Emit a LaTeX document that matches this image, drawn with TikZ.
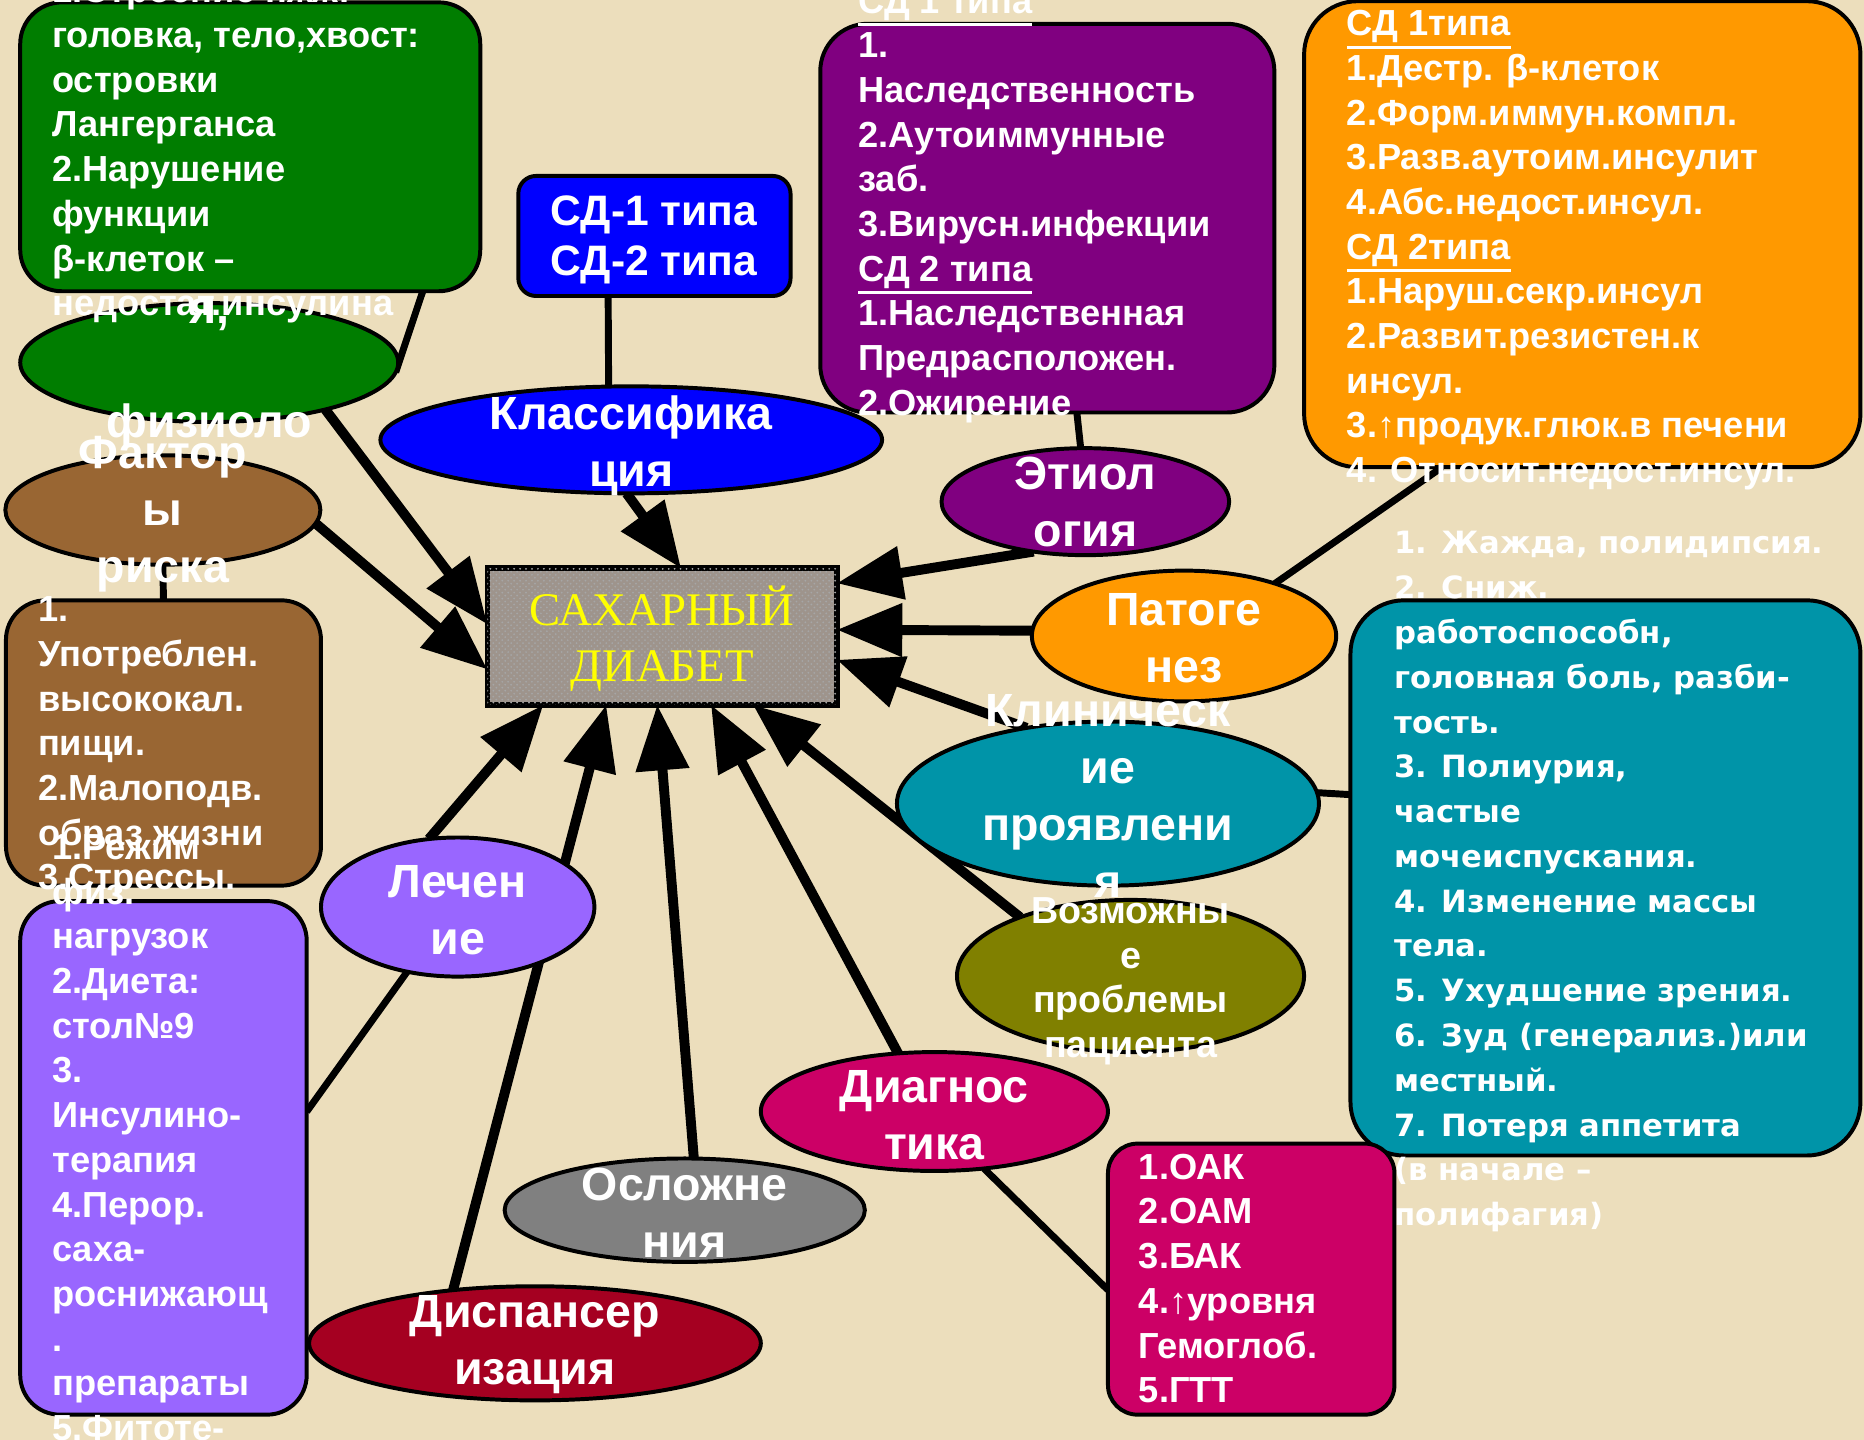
\documentclass[tikz,border=0pt]{standalone}
\usepackage{fontspec}
\setmainfont{Liberation Sans}
\newfontfamily\serifT{Liberation Serif}
\newfontfamily\verd{DejaVu Sans}
\usetikzlibrary{shapes.geometric,arrows.meta,calc,fit,patterns}
\pgfdeclarelayer{bgl}
\pgfdeclarelayer{conl}
\pgfsetlayers{bgl,conl,main}
\definecolor{bg}{RGB}{236,222,188}
\definecolor{cgreen}{RGB}{0,125,0}
\definecolor{cbrown}{RGB}{153,102,51}
\definecolor{cviolet}{RGB}{153,102,255}
\definecolor{cblue}{RGB}{0,0,255}
\definecolor{cpurple}{RGB}{128,0,128}
\definecolor{corange}{RGB}{255,153,0}
\definecolor{cteal}{RGB}{0,148,168}
\definecolor{colive}{RGB}{128,128,0}
\definecolor{cmag}{RGB}{204,0,102}
\definecolor{cgray}{RGB}{128,128,128}
\definecolor{cdred}{RGB}{165,0,33}
\definecolor{cstone}{RGB}{158,148,140}
\definecolor{cyel}{RGB}{255,255,0}
\newcommand{\bodytxt}[1]{\parbox[t]{12cm}{\raggedright\bfseries\fontsize{18.3}{22.56}\selectfont #1}}
\newcommand{\teatxt}[1]{\parbox[t]{12cm}{\raggedright\verd\bfseries\fontsize{15.5}{22.6}\selectfont #1}}
\newcommand{\lbltxt}[1]{\parbox[t]{8cm}{\centering\bfseries\fontsize{23.5}{28.8}\selectfont #1}}
\newcommand{\ulx}[1]{\leavevmode\vtop{\hbox{#1}\kern1.4pt\hrule height 1.5pt}}
\tikzset{
  shp/.style={draw=black, line width=2pt},
  ell/.style={shp, ellipse, inner sep=0pt, outer sep=0pt},
  rbox/.style={shp, rectangle, inner sep=0pt, outer sep=0pt},
  conn/.style={line width=3.5pt, black},
  arr/.style={line width=5pt, black, -{Triangle[length=33pt,width=26pt]}},
  txt/.style={inner sep=0pt, outer sep=0pt, text=white, anchor=base west},
  lbl/.style={inner sep=0pt, outer sep=0pt, text=white, anchor=base},
}
\begin{document}
\begin{tikzpicture}[x=0.6pt, y=-0.6pt]
\useasboundingbox (0,0) rectangle (1568,1211);
\begin{pgfonlayer}{bgl}
\fill[bg] (0,0) rectangle (1568,1211);
\end{pgfonlayer}

% green ellipse (anatomy)
\node[ell, fill=cgreen, minimum width=190.8pt, minimum height=60pt] (gell) at (176,305) {};
\node[lbl] (gellt) at (176,272) {\lbltxt{я,\\[28.8pt]физиоло}};
% brown ellipse
\node[ell, fill=cbrown, minimum width=159pt, minimum height=55.2pt] (bell) at (137,429) {};
\node[lbl] (bellt) at (137,394) {\lbltxt{Фактор\\ы\\риска}};
% green box
\node[rbox, rounded corners=21pt, fill=cgreen, fit={(17,2) (404,245)}] (gbox) {};
\node[txt] (gboxt) at (44,2.4) {\bodytxt{1.Строение пжж:\\головка, тело,хвост:\\островки\\Лангерганса\\2.Нарушение\\функции\\β-клеток –\\недостат.инсулина}};
% brown box
\node[rbox, rounded corners=20pt, fill=cbrown, fit={(5,505) (270,745)}] (bbox) {};
\node[txt] (bboxt) at (32,523) {\bodytxt{1.\\Употреблен.\\высококал.\\пищи.\\2.Малоподв.\\образ жизни\\3.Стрессы.}};
% violet box
\node[rbox, rounded corners=20pt, fill=cviolet, fit={(17,758) (258,1190)}] (vbox) {};
\node[txt] (vboxt) at (44,723) {\bodytxt{1.Режим\\физ.\\нагрузок\\2.Диета:\\стол№9\\3.\\Инсулино-\\терапия\\4.Перор.\\саха-\\роснижающ\\.\\препараты\\5.Фитоте-}};
% treatment
\node[ell, fill=cviolet, minimum width=138pt, minimum height=70.2pt] (lech) at (385,763) {};
\node[lbl] (lecht) at (385,755) {\lbltxt{Лечен\\ие}};
% SD box
\node[rbox, rounded corners=9pt, fill=cblue, fit={(436,148) (665,249)}] (sd) {};
\node[lbl] (sdt) at (550,190) {\parbox[t]{6cm}{\centering\bfseries\fontsize{21.5}{25.2}\selectfont СД-1 типа\\СД-2 типа}};
% classification
\node[ell, fill=cblue, minimum width=253.2pt, minimum height=54pt] (klass) at (531,370) {};
\node[lbl] (klasst) at (531,361) {\lbltxt{Классифика\\ция}};
% centre
\node[rbox, line width=2.8pt, fill=cstone, postaction={pattern=crosshatch dots, pattern color=black!35}, fit={(410,478) (704,593)}] (center) {};
\node[lbl, text=cyel] (centert) at (557,526) {\parbox[t]{8cm}{\centering\serifT\fontsize{23.6}{28.2}\selectfont САХАРНЫЙ\\ДИАБЕТ}};
% etiology box
\node[rbox, rounded corners=24pt, fill=cpurple, fit={(690,20) (1072,347)}] (pbox) {};
\node[txt] (pboxt) at (722,11) {\bodytxt{\ulx{СД 1 типа}\\1.\\Наследственность\\2.Аутоиммунные\\заб.\\3.Вирусн.инфекции\\\ulx{СД 2 типа}\\1.Наследственная\\Предрасположен.\\2.Ожирение}};
\node[ell, fill=cpurple, minimum width=145.2pt, minimum height=54pt] (etio) at (913,422) {};
\node[lbl] (etiot) at (913,412) {\lbltxt{Этиол\\огия}};
% pathogenesis box
\node[rbox, rounded corners=27pt, fill=corange, fit={(1097,1) (1565,393)}] (obox) {};
\node[txt] (oboxt) at (1133,30) {\bodytxt{\ulx{СД 1типа}\\1.Дестр. β-клеток\\2.Форм.иммун.компл.\\3.Разв.аутоим.инсулит\\4.Абс.недост.инсул.\\\ulx{СД 2типа}\\1.Наруш.секр.инсул\\2.Развит.резистен.к\\инсул.\\3.↑продук.глюк.в печени\\4. Относит.недост.инсул.}};
\node[ell, fill=corange, minimum width=153.6pt, minimum height=66pt] (pat) at (996,535) {};
\node[lbl] (patt) at (996,526) {\lbltxt{Патоге\\нез}};
% clinical
\node[ell, fill=cteal, minimum width=213pt, minimum height=82.8pt] (clin) at (932,676) {};
\node[lbl] (clint) at (932,611) {\lbltxt{Клиническ\\ие\\проявлени\\я}};
\node[rbox, rounded corners=27pt, fill=cteal, fit={(1136,505) (1565,972)}] (tbox) {};
\node[txt] (tboxt) at (1173,466) {\teatxt{1. Жажда, полидипсия.\\2. Сниж.\\работоспособн,\\головная боль, разби-\\тость.\\3. Полиурия,\\частые\\мочеиспускания.\\4. Изменение массы\\тела.\\5. Ухудшение зрения.\\6. Зуд (генерализ.)или\\местный.\\7. Потеря аппетита\\(в начале –\\полифагия)}};
% possible problems
\node[ell, fill=colive, minimum width=175.2pt, minimum height=76.8pt] (vozm) at (951,821) {};
\node[lbl] (vozmt) at (951,777) {\parbox[t]{6cm}{\centering\bfseries\fontsize{19}{22.5}\selectfont Возможны\\е\\проблемы\\пациента}};
% diagnosis
\node[ell, fill=cmag, minimum width=175.2pt, minimum height=60pt] (diag) at (786,935) {};
\node[lbl] (diagt) at (786,927) {\lbltxt{Диагнос\\тика}};
\node[rbox, rounded corners=15pt, fill=cmag, fit={(932,962) (1173,1190)}] (lab) {};
\node[txt] (labt) at (958,992) {\bodytxt{1.ОАК\\2.ОАМ\\3.БАК\\4.↑уровня\\Гемоглоб.\\5.ГТТ}};
% complications
\node[ell, fill=cgray, minimum width=181.8pt, minimum height=52.2pt] (osl) at (576,1018) {};
\node[lbl] (oslt) at (576,1010) {\lbltxt{Осложне\\ния}};
% dispensary
\node[ell, fill=cdred, minimum width=228pt, minimum height=57.6pt] (disp) at (450,1130) {};
\node[lbl] (dispt) at (450,1117) {\lbltxt{Диспансер\\изация}};

\begin{pgfonlayer}{conl}
\draw[conn] ($(gbox.south west)!0.875!(gbox.south east)$) -- (gell.-3);
\draw[arr] (gell.-22) -- ($(center.north west)!0.41!(center.south west)$);
\draw[arr] (bell.-5) -- ($(center.north west)!0.74!(center.south west)$);
\draw[conn] (bell.south) -- (bbox.north);
\draw[conn] ($(vbox.north east)!0.41!(vbox.south east)$) -- (lech.-128);
\draw[arr] (lech.113) -- ($(center.south west)!0.16!(center.south east)$);
\draw[arr] (disp.147) -- ($(center.south west)!0.34!(center.south east)$);
\draw[arr] (osl.80) -- ($(center.south west)!0.486!(center.south east)$);
\draw[arr] (diag.122) -- ($(center.south west)!0.64!(center.south east)$);
\draw[arr] (vozm.152) -- ($(center.south west)!0.76!(center.south east)$);
\draw[arr] (clin.137) -- ($(center.north east)!0.67!(center.south east)$);
\draw[arr] (pat.178) -- ($(center.north east)!0.45!(center.south east)$);
\draw[arr] (etio.-136) -- ($(center.north east)!0.11!(center.south east)$);
\draw[arr] (klass.-95) -- ($(center.north west)!0.554!(center.north east)$);
\draw[conn] ($(sd.south west)!0.33!(sd.south east)$) -- (klass.113);
\draw[conn] ($(pbox.south west)!0.565!(pbox.south east)$) -- (etio.95);
\draw[conn] (pat.30) -- ($(obox.south west)!0.248!(obox.south east)$);
\draw[conn] (clin.3) -- ($(tbox.north west)!0.35!(tbox.south west)$);
\draw[conn] (diag.-49) -- ($(lab.north west)!0.54!(lab.south west)$);
\end{pgfonlayer}
\end{tikzpicture}
\end{document}
